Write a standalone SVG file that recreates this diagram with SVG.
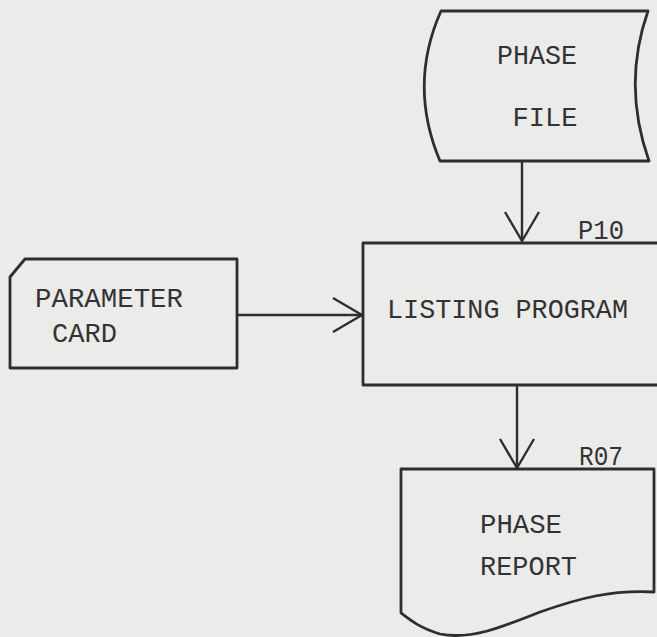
<svg xmlns="http://www.w3.org/2000/svg" width="657" height="637" viewBox="0 0 657 637">
<style>
.shape{fill:none;stroke:#2e2e2e;stroke-width:2.8;stroke-linejoin:round}
.conn{fill:none;stroke:#2e2e2e;stroke-width:2.4}
.t{font-family:"Liberation Mono","DejaVu Sans Mono",monospace;font-size:28px;fill:#333}
</style>
<defs>
<marker id="arr" markerUnits="userSpaceOnUse" viewBox="-32 -20 36 40" refX="0" refY="0" markerWidth="36" markerHeight="40" orient="auto">
<path d="M-29,-17 L0,0 L-29,17" fill="none" stroke="#2e2e2e" stroke-width="2.4"/>
</marker>
</defs>
<rect width="657" height="637" fill="#ebebea"/>
<g id="phase-file">
<path class="shape" d="M441,11 L648,11 Q622,85 649,161 L440,161 Q408,85 441,11 Z"/>
<text class="t" x="537" y="64" text-anchor="middle" textLength="80" lengthAdjust="spacingAndGlyphs">PHASE</text>
<text class="t" x="545" y="126" text-anchor="middle" textLength="65" lengthAdjust="spacingAndGlyphs">FILE</text>
</g>
<g id="listing-program">
<path class="shape" d="M659,243 L363,243 L363,385 L659,385"/>
<text class="t" x="387" y="318" textLength="241" lengthAdjust="spacingAndGlyphs">LISTING PROGRAM</text>
<text class="t" x="578" y="239" textLength="46" lengthAdjust="spacingAndGlyphs">P10</text>
</g>
<g id="parameter-card">
<path class="shape" d="M25,259 L237,259 L237,368 L10,368 L10,277 Z"/>
<text class="t" x="35" y="307" textLength="148" lengthAdjust="spacingAndGlyphs">PARAMETER</text>
<text class="t" x="52" y="342" textLength="65" lengthAdjust="spacingAndGlyphs">CARD</text>
</g>
<g id="phase-report">
<path class="shape" d="M401,469 L654,469 L654,592 C610,590 580,598 540,612 C500,628 470,640 440,634 C420,628 410,620 401,613 Z"/>
<text class="t" x="579" y="465" textLength="44" lengthAdjust="spacingAndGlyphs">R07</text>
<text class="t" x="480" y="533" textLength="82" lengthAdjust="spacingAndGlyphs">PHASE</text>
<text class="t" x="480" y="575" textLength="97" lengthAdjust="spacingAndGlyphs">REPORT</text>
</g>
<g id="connectors">
<line class="conn" x1="522" y1="162" x2="522" y2="241" marker-end="url(#arr)"/>
<line class="conn" x1="237" y1="315" x2="362" y2="315" marker-end="url(#arr)"/>
<line class="conn" x1="517" y1="385" x2="517" y2="468" marker-end="url(#arr)"/>
</g>
</svg>
